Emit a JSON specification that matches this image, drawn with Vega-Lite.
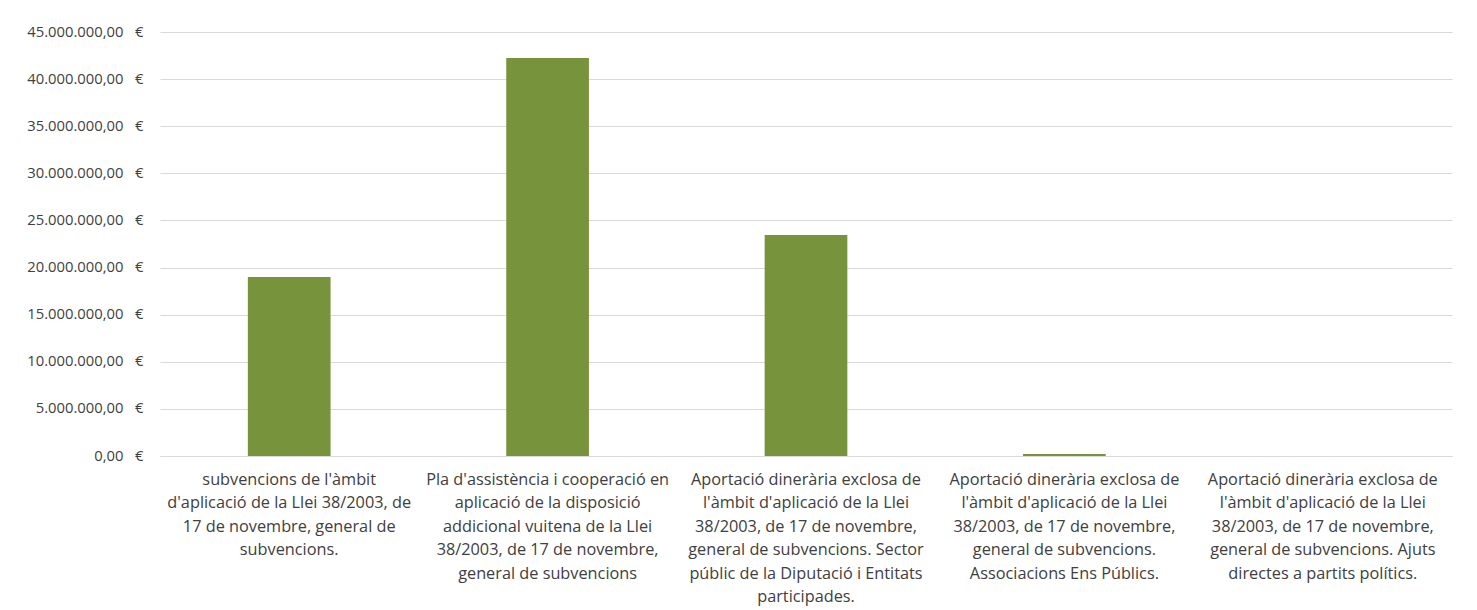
{
  "$schema": "https://vega.github.io/schema/vega-lite/v6.json",
  "autosize": {"type": "none"},
  "padding": {"left": 160, "top": 32, "right": 25, "bottom": 154},
  "width": 1292,
  "height": 424,
  "background": "white",
  "config": {
    "locale": {"number": {"decimal": ",", "thousands": ".", "grouping": [3], "currency": ["", " €"]}},
    "view": {"stroke": null},
    "font": "Open Sans"
  },
  "data": {
    "values": [
      {"categoria": "subvencions de l'àmbit\nd'aplicació de la Llei 38/2003, de\n17 de novembre, general de\nsubvencions.", "import": 19000000},
      {"categoria": "Pla d'assistència i cooperació en\naplicació de la disposició\naddicional vuitena de la Llei\n38/2003, de 17 de novembre,\ngeneral de subvencions", "import": 42250000},
      {"categoria": "Aportació dinerària exclosa de\nl'àmbit d'aplicació de la Llei\n38/2003, de 17 de novembre,\ngeneral de subvencions. Sector\npúblic de la Diputació i Entitats\nparticipades.", "import": 23450000},
      {"categoria": "Aportació dinerària exclosa de\nl'àmbit d'aplicació de la Llei\n38/2003, de 17 de novembre,\ngeneral de subvencions.\nAssociacions Ens Públics.", "import": 200000},
      {"categoria": "Aportació dinerària exclosa de\nl'àmbit d'aplicació de la Llei\n38/2003, de 17 de novembre,\ngeneral de subvencions. Ajuts\ndirectes a partits polítics.", "import": 0}
    ]
  },
  "mark": {"type": "bar", "color": "#77933C"},
  "encoding": {
    "x": {
      "field": "categoria",
      "type": "nominal",
      "sort": null,
      "scale": {"paddingInner": 0.68, "paddingOuter": 0.34},
      "axis": {
        "title": null,
        "labelAngle": 0,
        "labelExpr": "split(datum.label, '\\n')",
        "labelFontSize": 16.3,
        "labelLineHeight": 23.5,
        "labelColor": "#404040",
        "labelPadding": 15,
        "labelLimit": 0,
        "labelOverlap": false,
        "labelBaseline": "top",
        "ticks": false,
        "domainColor": "#d9d9d9",
        "domainWidth": 1
      }
    },
    "y": {
      "field": "import",
      "type": "quantitative",
      "scale": {"domain": [0, 45000000], "nice": false},
      "axis": {
        "title": null,
        "values": [0, 5000000, 10000000, 15000000, 20000000, 25000000, 30000000, 35000000, 40000000, 45000000],
        "labelExpr": "format(datum.value, ',.2f') + '\u00a0\u00a0\u00a0€'",
        "labelFontSize": 14.8,
        "labelColor": "#404040",
        "labelPadding": 17,
        "ticks": false,
        "domain": false,
        "gridColor": "#d9d9d9",
        "gridWidth": 1
      }
    }
  }
}
